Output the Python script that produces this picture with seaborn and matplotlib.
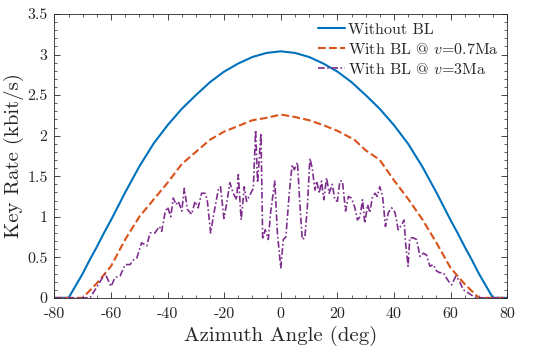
import numpy as np
import pandas as pd
import matplotlib
matplotlib.use("Agg")
import matplotlib.pyplot as plt
from matplotlib.ticker import MultipleLocator
import seaborn as sns

# key rate vs azimuth
angle_nobl = [-80, -75, -72.5, -70, -67.5, -65, -62.5, -60, -55, -50, -45, -40, -35, -30, -25, -20, -15,
              -10, -5, 0, 5, 10, 15, 20, 25, 30, 35, 40, 45, 50, 55, 60, 62.5, 65, 67.5, 70, 72.5, 75, 80]
rate_nobl = [0, 0, 0.15, 0.30, 0.47, 0.63, 0.80, 0.96, 1.30, 1.62, 1.90, 2.13, 2.33, 2.50, 2.66, 2.79, 2.89,
             2.97, 3.02, 3.04, 3.02, 2.97, 2.89, 2.79, 2.66, 2.50, 2.33, 2.13, 1.90, 1.62, 1.30, 0.96, 0.80,
             0.63, 0.47, 0.30, 0.15, 0, 0]

angle_v07 = [-80, -70, -65, -60, -55, -50, -45, -40, -35, -30, -25, -20, -15, -10, -5, 0,
             5, 10, 15, 20, 26, 30, 35, 40, 45, 50, 55, 60, 65, 70, 80]
rate_v07 = [0, 0, 0.18, 0.39, 0.72, 1.00, 1.21, 1.42, 1.65, 1.80, 1.95, 2.05, 2.12, 2.19, 2.22, 2.26,
            2.23, 2.19, 2.13, 2.06, 1.95, 1.82, 1.70, 1.45, 1.22, 0.97, 0.68, 0.37, 0.17, 0, 0]

angle_v3 = [-80, -67.4, -62.1, -60, -58.6, -56.8, -55, -53.3, -52, -50.9, -49.2, -47.4, -46.2, -44.5,
            -42.9, -42.1, -40.9, -40, -38.9, -38, -37, -36.2, -35, -34.1, -33, -31.5, -30.3, -29.2,
            -28, -26.8, -26, -24.8, -23.6, -22.1, -21.3, -20.1, -19.1, -18, -16.8, -15.6, -15, -14,
            -12.9, -12.1, -10.9, -9.7, -8.9, -8.2, -7.0, -6.4, -5.5, -4.4, -3.6, -2.1, -1.2, 0,
            0.9, 1.8, 3.0, 4.0, 4.8, 5.9, 6.8, 7.6, 8.5, 9.4, 10.3, 11.1, 12.1, 12.7, 13.6, 14.4,
            15.2, 16.2, 17.1, 18.2, 19.1, 20, 20.9, 21.8, 22.9, 23.9, 25, 26.2, 27.1, 28, 28.9,
            29.7, 30.7, 31.5, 32.3, 33.3, 34.1, 35, 36, 37, 38, 39.2, 40.4, 41.5, 42.7, 43.6, 44.1,
            45, 45.6, 46.8, 48, 49.2, 50.4, 51.5, 52.7, 53.9, 55.1, 56.2, 57.4, 59.2, 60.4, 61.9,
            63.1, 64.5, 66.3, 68, 69.2, 80]
rate_v3 = [0, 0, 0.30, 0.14, 0.25, 0.27, 0.41, 0.41, 0.47, 0.49, 0.68, 0.64, 0.80, 0.80,
           0.88, 0.82, 1.05, 1.12, 1.00, 1.23, 1.15, 1.19, 1.07, 1.35, 1.09, 1.03, 1.19, 1.11,
           1.29, 1.29, 1.21, 0.80, 1.05, 1.33, 1.37, 0.98, 1.17, 1.42, 1.29, 1.21, 1.52, 0.96,
           1.37, 1.19, 1.27, 1.35, 2.07, 1.42, 2.03, 0.72, 0.84, 0.72, 1.05, 1.44, 0.80, 0.37,
           0.72, 0.75, 1.29, 1.64, 1.58, 1.67, 1.13, 0.72, 0.74, 1.13, 1.72, 1.60, 1.33, 1.44, 1.29, 1.44,
           1.21, 1.48, 1.29, 1.40, 1.21, 1.19, 1.44, 1.44, 1.07, 1.25, 1.23, 1.11, 0.96, 1.00, 1.21,
           0.92, 1.15, 1.05, 1.23, 1.29, 1.25, 1.37, 1.25, 0.88, 1.05, 1.11, 1.05, 0.84, 0.90, 0.96, 0.68,
           0.39, 0.74, 0.74, 0.72, 0.51, 0.55, 0.53, 0.39, 0.41, 0.33, 0.31, 0.31, 0.21, 0.16, 0.27,
           0.21, 0.10, 0.06, 0.02, 0, 0]

sns.set_style("ticks")
plt.rcParams['font.family'] = ['cmr10', 'DejaVu Serif']
plt.rcParams['mathtext.fontset'] = 'cm'
plt.rcParams['axes.unicode_minus'] = False
plt.rcParams['axes.formatter.use_mathtext'] = True

fig, ax = plt.subplots(figsize=(5.5, 3.5), dpi=100)
fig.subplots_adjust(left=0.099, right=0.922, top=0.96, bottom=0.149)

sns.lineplot(x=angle_nobl, y=rate_nobl, ax=ax, color='#0072BD', lw=1.5, label='Without BL')
sns.lineplot(x=angle_v07, y=rate_v07, ax=ax, color='#D95319', lw=1.5, linestyle='--',
             label=r'With BL @ $v$=0.7Ma')
sns.lineplot(x=angle_v3, y=rate_v3, ax=ax, color='#7E2F8E', lw=1.2, dashes=(4, 1.5, 1, 1.5),
             label=r'With BL @ $v$=3Ma')

ax.set_xlim(-80, 80)
ax.set_ylim(0, 3.5)
ax.xaxis.set_major_locator(MultipleLocator(20))
ax.xaxis.set_minor_locator(MultipleLocator(5))
ax.yaxis.set_major_locator(MultipleLocator(0.5))
ax.yaxis.set_minor_locator(MultipleLocator(0.1))
ax.set_xticklabels([f"{int(v)}" for v in ax.get_xticks()])
ax.set_yticklabels([f"{v:g}" for v in ax.get_yticks()])
ax.tick_params(which='both', direction='in', top=True, right=True, labelsize=11.5, colors='#262626')
ax.tick_params(which='major', length=4, width=0.6)
ax.tick_params(which='minor', length=2, width=0.5)
ax.tick_params(axis='x', which='major', pad=7)
ax.tick_params(axis='y', which='major', pad=5)
for s in ax.spines.values():
    s.set_linewidth(0.6)
    s.set_color('#262626')

ax.set_xlabel('Azimuth Angle (deg)', fontsize=15, labelpad=3)
ax.set_ylabel('Key Rate (kbit/s)', fontsize=15, labelpad=2)

ax.legend(loc='upper right', frameon=False, fontsize=11.5, handlelength=1.7,
          handletextpad=0.15, labelspacing=0.3, borderaxespad=0.15)

fig.savefig('out.png', dpi=100)
